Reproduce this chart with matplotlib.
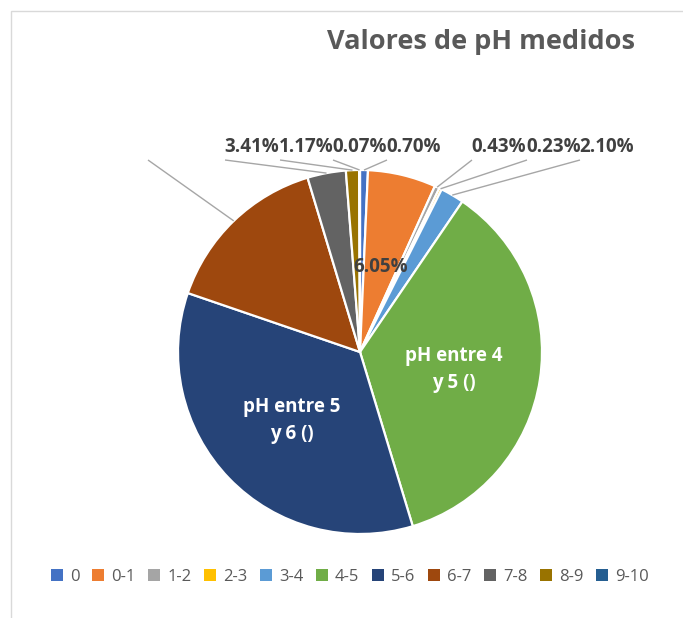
import numpy as np
import matplotlib
matplotlib.use("Agg")
import matplotlib.pyplot as plt
from matplotlib.patches import Rectangle, Patch

# data
categories = ["0", "0-1", "1-2", "2-3", "3-4", "4-5", "5-6", "6-7", "7-8", "8-9", "9-10"]
values = [0.70, 6.05, 0.43, 0.23, 2.10, 35.81, 34.93, 15.10, 3.41, 1.17, 0.07]
colors = ["#4472C4", "#ED7D31", "#A5A5A5", "#FFC000", "#5B9BD5", "#70AD47",
          "#264478", "#9E480E", "#636363", "#997300", "#255E91"]
inside_labels = {"4-5": "pH entre 4\ny 5 ()", "5-6": "pH entre 5\ny 6 ()"}

# layout (pixels, y measured from top)
W, H = 683, 618
CX, CY, R = 360, 352, 182
label_left = {"7-8": 225, "8-9": 280, "9-10": 333, "0": 387,
              "1-2": 472, "2-3": 527, "3-4": 580, "6-7": 148}
LABEL_Y = 147
FONT = "Open Sans"


def px(x, y):
    return x, H - y


fig = plt.figure(figsize=(W / 100, H / 100), dpi=100)
ax = fig.add_axes([0, 0, 1, 1])

ax.pie(values, colors=colors, startangle=90, counterclock=False, radius=R,
       center=px(CX, CY), wedgeprops=dict(edgecolor="white", linewidth=1.6))
ax.set_xlim(0, W)
ax.set_ylim(0, H)
ax.set_aspect("equal")
ax.axis("off")

# chart border
ax.add_patch(Rectangle((10.5, -20), W, H - 10.5 + 20, fill=False,
                       edgecolor="#D9D9D9", lw=1.0))

total = float(np.sum(values))
cum = np.cumsum([0] + values[:-1]) / total
frac = np.array(values) / total
mid = 2 * np.pi * (cum + frac / 2)  # clockwise from 12 o'clock

for i, cat in enumerate(categories):
    a = mid[i]
    dx, dy = np.sin(a), np.cos(a)
    if cat in inside_labels:
        ax.text(*px(CX + 0.52 * R * dx, CY - 0.52 * R * dy + 3), inside_labels[cat],
                ha="center", va="center", color="white", fontsize=13.5,
                fontweight="bold", family=FONT, linespacing=1.5)
    elif cat == "0-1":
        ax.text(*px(CX + 0.48 * R * dx, CY - 0.48 * R * dy), f"{values[i]:.2f}%",
                ha="center", va="center", color="#404040", fontsize=13.5,
                fontweight="bold", family=FONT)
    elif cat in label_left:
        x0 = label_left[cat]
        ax.plot([px(x0, 160)[0], CX + R * dx], [px(x0, 160)[1], H - (CY - R * dy)],
                color="#A6A6A6", lw=1.0, solid_capstyle="butt")
        if cat != "6-7":
            ax.text(*px(x0 - 1, LABEL_Y), f"{values[i]:.2f}%", ha="left", va="center",
                    color="#404040", fontsize=13.5, fontweight="bold", family=FONT)

ax.text(*px(481, 42), "Valores de pH medidos", ha="center", va="center",
        color="#595959", fontsize=19.5, fontweight="bold", family=FONT)

handles = [Patch(facecolor=c, edgecolor="none") for c in colors]
fig.legend(handles, categories, loc="center", ncol=11, frameon=False,
           bbox_to_anchor=(350 / W, 1 - 577 / H), handlelength=0.7,
           handleheight=0.7, handletextpad=0.45, columnspacing=0.75,
           prop=dict(family=FONT, size=12), labelcolor="#595959")

fig.savefig("out.png", dpi=100, facecolor="white")
